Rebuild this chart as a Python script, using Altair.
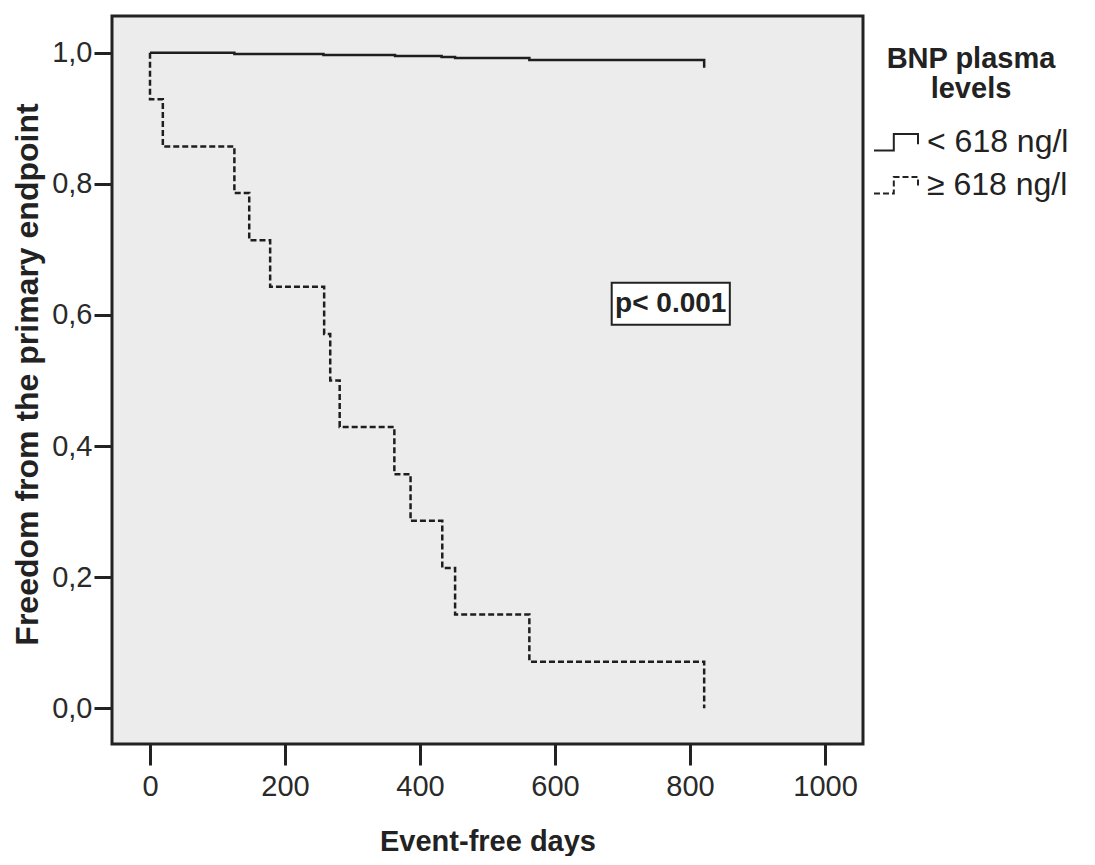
import altair as alt
import pandas as pd

# ---- data ----
groups = ["< 618 ng/l", "≥ 618 ng/l"]

low_days = [0, 125, 257, 363, 432, 452, 562, 821]
low_surv = [1.0, 0.998, 0.9965, 0.995, 0.9935, 0.992, 0.989, 0.977]

high_days = [0, 0, 19, 125, 147, 178, 258, 267, 281, 362, 386, 433, 452, 562, 821]
high_surv = [1.0, 0.929, 0.857, 0.786, 0.714, 0.643, 0.571, 0.5, 0.429,
             0.357, 0.286, 0.214, 0.143, 0.071, 0.0]

x_ticks = [0, 200, 400, 600, 800, 1000]
y_ticks = [0.0, 0.2, 0.4, 0.6, 0.8, 1.0]

p_label = "p< 0.001"
p_box_x = [684, 859]
p_box_y = [0.585, 0.649]

FONT = "Liberation Sans"
INK = "#222222"

rows = []
for g, days, surv in [(groups[0], low_days, low_surv), (groups[1], high_days, high_surv)]:
    for i, (d, s) in enumerate(zip(days, surv)):
        rows.append({"group": g, "day": d, "surv": s, "idx": i})
df = pd.DataFrame(rows)

box_df = pd.DataFrame({
    "x1": [p_box_x[0]], "x2": [p_box_x[1]],
    "y1": [p_box_y[0]], "y2": [p_box_y[1]],
    "xc": [(p_box_x[0] + p_box_x[1]) / 2], "yc": [(p_box_y[0] + p_box_y[1]) / 2],
    "label": [p_label],
})

x_scale = alt.Scale(domain=[-56.3, 1056.3], nice=False, zero=False)
y_scale = alt.Scale(domain=[-0.0545, 1.056], nice=False, zero=False)

x_axis = alt.Axis(
    values=x_ticks, format="d", title="Event-free days", grid=False, domain=False,
    tickSize=21, tickWidth=3, tickColor=INK,
    labelFont=FONT, labelFontSize=29, labelColor="#2a2a2a", labelPadding=7,
    titleFont=FONT, titleFontSize=29, titleFontWeight="bold", titleColor=INK,
    titleBaseline="alphabetic", titleY=106,
)
y_axis = alt.Axis(
    values=y_ticks, title="Freedom from the primary endpoint", grid=False, domain=False,
    tickSize=18, tickWidth=3, tickColor=INK,
    labelExpr="replace(format(datum.value, '.1f'), '.', ',')",
    labelFont=FONT, labelFontSize=29, labelColor="#2a2a2a", labelPadding=2,
    titleFont=FONT, titleFontSize=32, titleFontWeight="bold", titleColor=INK,
    titleBaseline="alphabetic", titleX=-75, titleY=358, titleAngle=270,
)

legend = alt.Legend(
    title=["BNP plasma", "levels"],
    orient="none", legendX=761, legendY=29,
    symbolType="M-1,0.39L-0.1,0.39L-0.1,-0.36L1,-0.36L1,0.1",
    symbolSize=1936, symbolStrokeWidth=2, symbolStrokeColor=INK,
    symbolFillColor="transparent",
    labelFont=FONT, labelFontSize=32, labelColor=INK, labelOffset=8, labelLimit=400,
    titleFont=FONT, titleFontSize=29, titleFontWeight="bold", titleColor=INK,
    titleAnchor="middle", titleAlign="center", titleLineHeight=30,
    titlePadding=15, titleLimit=400, rowPadding=4, padding=0,
)

lines = alt.Chart(df).mark_line(
    interpolate="step-after", color="#1e1e1e", strokeWidth=2.5
).encode(
    x=alt.X("day:Q", scale=x_scale, axis=x_axis),
    y=alt.Y("surv:Q", scale=y_scale, axis=y_axis),
    strokeDash=alt.StrokeDash(
        "group:N",
        scale=alt.Scale(domain=groups, range=[[1, 0], [6, 3]]),
        legend=legend,
    ),
    order="idx:Q",
)

box = alt.Chart(box_df).mark_rect(fill="white", stroke=INK, strokeWidth=2).encode(
    x=alt.X("x1:Q", scale=x_scale), x2="x2:Q",
    y=alt.Y("y1:Q", scale=y_scale), y2="y2:Q",
)

ptext = alt.Chart(box_df).mark_text(
    font=FONT, fontSize=28, fontWeight="bold", color=INK, baseline="middle", align="center"
).encode(
    x=alt.X("xc:Q", scale=x_scale),
    y=alt.Y("yc:Q", scale=y_scale),
    text="label:N",
)

chart = alt.layer(lines, box, ptext).properties(
    width=751, height=728,
    autosize=alt.AutoSizeParams(type="none"),
    padding={"left": 104, "top": 8, "right": 216, "bottom": 112},
    background="white",
).configure_view(
    fill="#ececec", stroke=INK, strokeWidth=3
)

chart.save("out.html", embed_options={"renderer": "svg", "actions": False})
